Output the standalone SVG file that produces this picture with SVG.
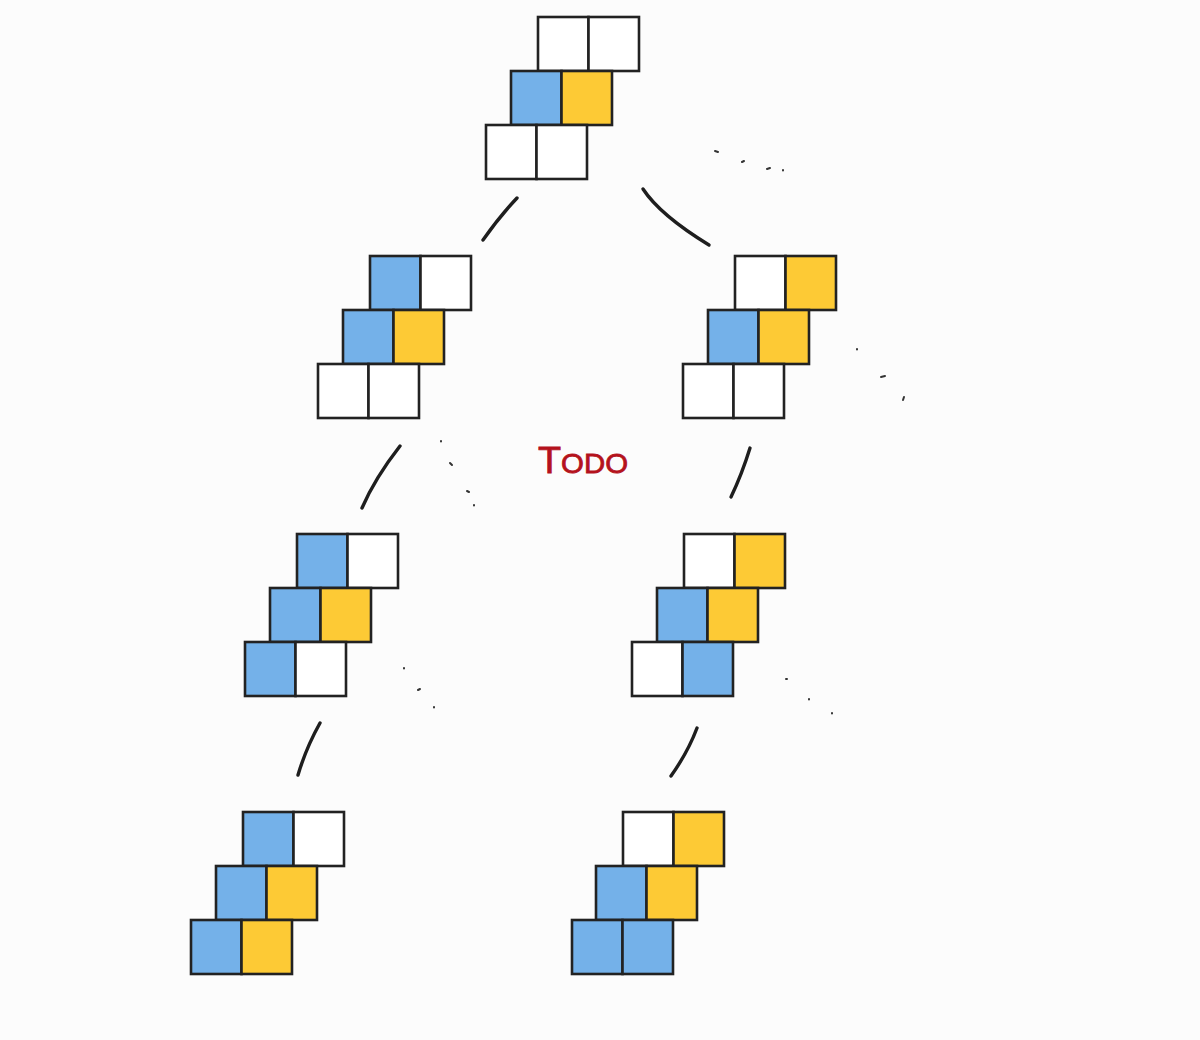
<svg xmlns="http://www.w3.org/2000/svg" width="1200" height="1040" viewBox="0 0 1200 1040">
<style>
.w{fill:#ffffff}
.b{fill:#74b1e9}
.y{fill:#fdca35}
.c rect{stroke:#222222;stroke-width:2.6}
.e{fill:none;stroke:#1e1e1e;stroke-width:3.4;stroke-linecap:round}
.d{fill:none;stroke:#333333;stroke-width:2;stroke-linecap:round}
.t{font-family:"Liberation Sans",Arial,sans-serif;font-size:28px;fill:#b4121c;stroke:#b4121c;stroke-width:0.8}
</style>
<rect x="0" y="0" width="1200" height="1040" fill="#fcfcfc"/>
<g id="connectors">
<path class="e" d="M517,198 Q500,216 483,240"/>
<path class="e" d="M643,189 Q660,215 709,245"/>
<path class="e" d="M400,446 Q375,478 362,508"/>
<path class="e" d="M750,448 Q742,474 731,497"/>
<path class="e" d="M320,723 Q306,748 298,775"/>
<path class="e" d="M697,728 Q688,752 671,776"/>
</g>
<g id="dots">
<path class="d" d="M715,151 l3,1 M742,162 l2,-1 M767,169 l3,-1 M783,170 l0,0.5"/>
<path class="d" d="M857,349 l0,0.5 M881,377 l4,-1 M904,397 l-1,3"/>
<path class="d" d="M441,441 l0,0.5 M450,463 l2,2 M467,491 l2,1 M474,505 l0,0.5"/>
<path class="d" d="M404,668 l0,0.5 M418,690 l2,-1 M434,707 l0,0.5"/>
<path class="d" d="M786,679 l1,0 M809,699 l0,0.5 M832,713 l0,0.5"/>
</g>
<g id="node1" class="c">
<rect class="w" x="538" y="17" width="50.5" height="54"/><rect class="w" x="588.5" y="17" width="50.5" height="54"/>
<rect class="b" x="511" y="71" width="50.5" height="54"/><rect class="y" x="561.5" y="71" width="50.5" height="54"/>
<rect class="w" x="486" y="125" width="50.5" height="54"/><rect class="w" x="536.5" y="125" width="50.5" height="54"/>
</g>
<g id="node2" class="c">
<rect class="b" x="370" y="256" width="50.5" height="54"/><rect class="w" x="420.5" y="256" width="50.5" height="54"/>
<rect class="b" x="343" y="310" width="50.5" height="54"/><rect class="y" x="393.5" y="310" width="50.5" height="54"/>
<rect class="w" x="318" y="364" width="50.5" height="54"/><rect class="w" x="368.5" y="364" width="50.5" height="54"/>
</g>
<g id="node3" class="c">
<rect class="w" x="735" y="256" width="50.5" height="54"/><rect class="y" x="785.5" y="256" width="50.5" height="54"/>
<rect class="b" x="708" y="310" width="50.5" height="54"/><rect class="y" x="758.5" y="310" width="50.5" height="54"/>
<rect class="w" x="683" y="364" width="50.5" height="54"/><rect class="w" x="733.5" y="364" width="50.5" height="54"/>
</g>
<g id="node4" class="c">
<rect class="b" x="297" y="534" width="50.5" height="54"/><rect class="w" x="347.5" y="534" width="50.5" height="54"/>
<rect class="b" x="270" y="588" width="50.5" height="54"/><rect class="y" x="320.5" y="588" width="50.5" height="54"/>
<rect class="b" x="245" y="642" width="50.5" height="54"/><rect class="w" x="295.5" y="642" width="50.5" height="54"/>
</g>
<g id="node5" class="c">
<rect class="w" x="684" y="534" width="50.5" height="54"/><rect class="y" x="734.5" y="534" width="50.5" height="54"/>
<rect class="b" x="657" y="588" width="50.5" height="54"/><rect class="y" x="707.5" y="588" width="50.5" height="54"/>
<rect class="w" x="632" y="642" width="50.5" height="54"/><rect class="b" x="682.5" y="642" width="50.5" height="54"/>
</g>
<g id="node6" class="c">
<rect class="b" x="243" y="812" width="50.5" height="54"/><rect class="w" x="293.5" y="812" width="50.5" height="54"/>
<rect class="b" x="216" y="866" width="50.5" height="54"/><rect class="y" x="266.5" y="866" width="50.5" height="54"/>
<rect class="b" x="191" y="920" width="50.5" height="54"/><rect class="y" x="241.5" y="920" width="50.5" height="54"/>
</g>
<g id="node7" class="c">
<rect class="w" x="623" y="812" width="50.5" height="54"/><rect class="y" x="673.5" y="812" width="50.5" height="54"/>
<rect class="b" x="596" y="866" width="50.5" height="54"/><rect class="y" x="646.5" y="866" width="50.5" height="54"/>
<rect class="b" x="572" y="920" width="50.5" height="54"/><rect class="b" x="622.5" y="920" width="50.5" height="54"/>
</g>
<g id="label">
<text class="t" x="538" y="473" textLength="90" lengthAdjust="spacingAndGlyphs"><tspan style="font-size:36px">T</tspan>ODO</text>
</g>
</svg>
